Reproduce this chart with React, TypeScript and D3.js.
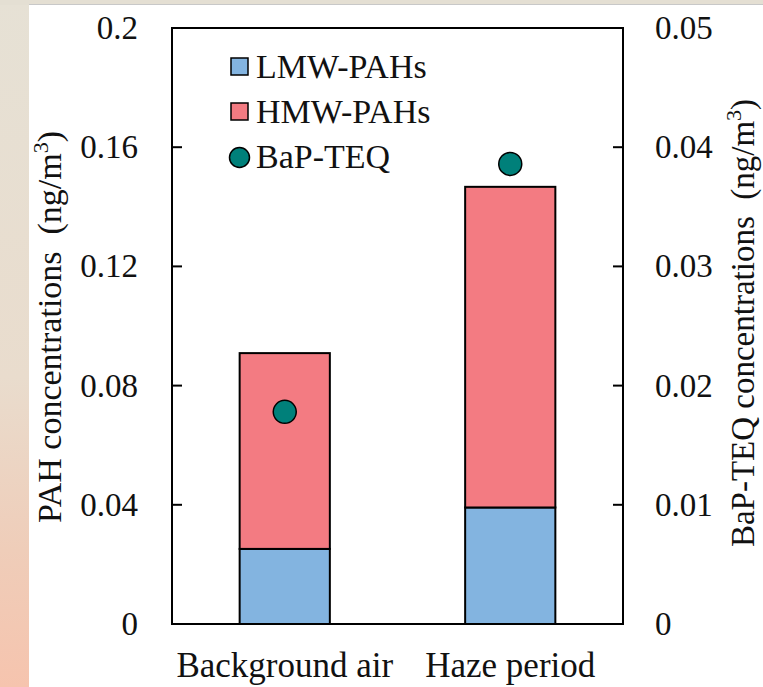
import React from 'react';
import * as d3 from 'd3';

const categories = ['Background air', 'Haze period'];
const lmwValues = [0.0252, 0.0391];
const hmwValues = [0.0657, 0.1076];
const bapTeq = [0.0178, 0.0386];
const leftTicks = [0, 0.04, 0.08, 0.12, 0.16, 0.2];
const rightTicks = [0, 0.01, 0.02, 0.03, 0.04, 0.05];
const legendItems = ['LMW-PAHs', 'HMW-PAHs', 'BaP-TEQ'];

const width = 763;
const height = 687;
const frame = {left: 172, right: 623, top: 28, bottom: 624};
const colors = {lmw: '#83b4e0', hmw: '#f37b82', dot: '#00807a'};

const txt = (size: number): React.CSSProperties => ({
  fontFamily: "'Liberation Serif', 'Times New Roman', serif",
  fontSize: size + 'px',
  fill: '#111',
});

const App = () => {
  const x = d3.scaleBand()
    .domain(categories)
    .range([frame.left, frame.right])
    .paddingInner(0.6)
    .paddingOuter(0.3);
  const yLeft = d3.scaleLinear().domain([0, 0.2]).range([frame.bottom, frame.top]);
  const yRight = d3.scaleLinear().domain([0, 0.05]).range([frame.bottom, frame.top]);

  const stackData = categories.map((c, i) => ({cat: c, lmw: lmwValues[i], hmw: hmwValues[i]}));
  const series = d3.stack<any>().keys(['lmw', 'hmw'])(stackData);

  const fmt = (v: number) => (v === 0 ? '0' : String(+v.toFixed(2)));

  return (
    <svg width={width} height={height} style={{position: 'absolute', left: 0, top: 0}}>
      <defs>
        <linearGradient id="bgside" x1="0" y1="0" x2="0" y2="1">
          <stop offset="0" stopColor="#e6e1d5" />
          <stop offset="0.55" stopColor="#e9dccd" />
          <stop offset="0.8" stopColor="#efcdb9" />
          <stop offset="1" stopColor="#f6c4ae" />
        </linearGradient>
      </defs>
      <rect x={0} y={0} width={width} height={height} fill="url(#bgside)" />
      <rect x={0} y={0} width={width} height={5} fill="#e4dfd3" />
      <rect x={29} y={4} width={width - 29} height={height - 4} fill="#fff" />
      <line x1={29} x2={width} y1={4.5} y2={4.5} stroke="#c8c8c8" strokeWidth={1} />

      {series.map(s =>
        s.map((d, i) => (
          <rect
            key={s.key + i}
            x={x(categories[i])}
            y={yLeft(d[1])}
            width={x.bandwidth()}
            height={yLeft(d[0]) - yLeft(d[1])}
            fill={s.key === 'lmw' ? colors.lmw : colors.hmw}
            stroke="#000"
            strokeWidth={2}
          />
        ))
      )}

      {bapTeq.map((v, i) => (
        <circle
          key={i}
          cx={x(categories[i])! + x.bandwidth() / 2}
          cy={yRight(v)}
          r={11.5}
          fill={colors.dot}
          stroke="#000"
          strokeWidth={1.5}
        />
      ))}

      <rect x={frame.left} y={frame.top} width={frame.right - frame.left} height={frame.bottom - frame.top}
        fill="none" stroke="#000" strokeWidth={2} />

      {leftTicks.map(t => (
        <g key={'l' + t}>
          <line x1={frame.left} x2={frame.left + 10} y1={yLeft(t)} y2={yLeft(t)} stroke="#000" strokeWidth={2} />
          <text x={138} y={yLeft(t) + 11} textAnchor="end" style={txt(33)}>{fmt(t)}</text>
        </g>
      ))}
      {rightTicks.map(t => (
        <g key={'r' + t}>
          <line x1={frame.right - 10} x2={frame.right} y1={yRight(t)} y2={yRight(t)} stroke="#000" strokeWidth={2} />
          <text x={655} y={yRight(t) + 11} textAnchor="start" style={txt(33)}>{fmt(t)}</text>
        </g>
      ))}

      {categories.map(c => (
        <text key={c} x={x(c)! + x.bandwidth() / 2} y={677} textAnchor="middle" style={txt(35)}>{c}</text>
      ))}

      <text transform="translate(61,327) rotate(-90)" textAnchor="middle" style={txt(34)}>
        PAH concentrations{'\u00a0\u00a0'}(ng/m<tspan dy={-13} style={{fontSize: '22px'}}>3</tspan><tspan dy={13}>)</tspan>
      </text>
      <text transform="translate(754,323) rotate(-90)" textAnchor="middle" style={txt(33)}>
        BaP-TEQ concentrations{'\u00a0\u00a0'}(ng/m<tspan dy={-13} style={{fontSize: '22px'}}>3</tspan><tspan dy={13}>)</tspan>
      </text>

      {legendItems.map((name, i) => {
        const ly = 67 + i * 45;
        return (
          <g key={name}>
            {i < 2 ? (
              <rect x={231} y={ly - 9} width={17} height={17}
                fill={i === 0 ? colors.lmw : colors.hmw} stroke="#000" strokeWidth={1.5} />
            ) : (
              <circle cx={239.5} cy={ly + 0.5} r={10} fill={colors.dot} stroke="#000" strokeWidth={1.5} />
            )}
            <text x={256} y={ly + 11} style={txt(34)}>{name}</text>
          </g>
        );
      })}
    </svg>
  );
};

export default App;
